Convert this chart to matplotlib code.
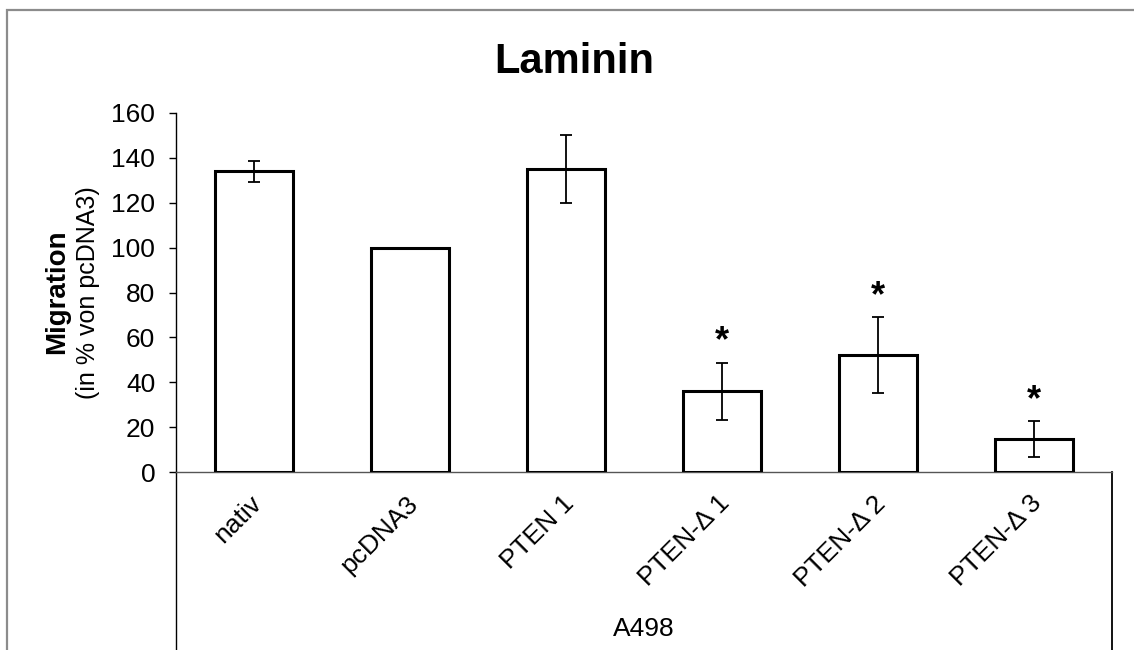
import matplotlib
matplotlib.use("Agg")
import matplotlib.pyplot as plt
from matplotlib.patches import Rectangle
from matplotlib.lines import Line2D

categories = ["nativ", "pcDNA3", "PTEN 1", "PTEN-Δ 1", "PTEN-Δ 2", "PTEN-Δ 3"]
values = [134, 100, 135, 36, 52, 14.6]
errors = [4.7, 0, 15, 12.7, 17, 8]
significant = [False, False, False, True, True, True]
yticks = [0, 20, 40, 60, 80, 100, 120, 140, 160]
group_label = "A498"
title = "Laminin"

plt.rcParams['font.family'] = ['Liberation Sans', 'DejaVu Sans']

W, H = 1134, 650
fig = plt.figure(figsize=(W / 100, H / 100), dpi=100)
fig.patch.set_facecolor('white')

L, R, B, T = 176, 1112, 472, 113
ax = fig.add_axes([L / W, 1 - B / H, (R - L) / W, (B - T) / H])

x = list(range(len(categories)))
ax.bar(x, values, width=0.5, color='white', edgecolor='black', linewidth=2.2, zorder=3)
for xi, v, e in zip(x, values, errors):
    if e > 0:
        ax.errorbar(xi, v, yerr=e, fmt='none', ecolor='black', elinewidth=1.3,
                    capsize=4.3, capthick=1.3, zorder=4)

for xi, v, e, s in zip(x, values, errors, significant):
    if s:
        ax.annotate('*', xy=(xi, v + e), xytext=(0, 8), textcoords='offset points',
                    ha='center', va='baseline', fontsize=26, fontweight='bold')

ax.set_xlim(-0.5, len(categories) - 0.5)
ax.set_ylim(0, 160)
ax.set_yticks(yticks)
ax.set_yticklabels([str(t) for t in yticks], fontsize=19)
ax.tick_params(axis='y', direction='out', length=5, width=1, pad=10, color='black')
ax.set_xticks([])

for sp in ['top', 'right']:
    ax.spines[sp].set_visible(False)
ax.spines['left'].set_color('black')
ax.spines['left'].set_linewidth(1)
ax.spines['bottom'].set_color('#555555')
ax.spines['bottom'].set_linewidth(1)

for xi, lab in zip(x, categories):
    ax.annotate(lab, xy=(xi, 0), xycoords=('data', 'axes fraction'),
                xytext=(3, -20), textcoords='offset points',
                rotation=45, rotation_mode='anchor', ha='right', va='center',
                fontsize=19)

# group bracket lines
ax.add_line(Line2D([0, 0], [0, -0.6], transform=ax.transAxes, color='black',
                   linewidth=1, clip_on=False))
ax.add_line(Line2D([1, 1], [0, -0.6], transform=ax.transAxes, color='black',
                   linewidth=1.3, clip_on=False))
fig.text(((L + R) / 2) / W, 1 - 629 / H, group_label, ha='center', va='center', fontsize=19)

# title
fig.text(574 / W, 1 - 73 / H, title, ha='center', va='baseline', fontsize=30, fontweight='bold')

# y label (two lines)
fig.text(57 / W, 1 - 292 / H, 'Migration', rotation=90, ha='center', va='center',
         fontsize=20, fontweight='bold')
fig.text(88 / W, 1 - 293 / H, '(in % von pcDNA3)', rotation=90, ha='center', va='center',
         fontsize=18)

# outer chart border
fig.patches.append(Rectangle((7 / W, -0.05), 1.1, (1 - 10 / H) + 0.05,
                             transform=fig.transFigure, fill=False,
                             edgecolor='#8c8c8c', linewidth=1.6, zorder=0))

fig.savefig('out.png', dpi=100, facecolor='white')
